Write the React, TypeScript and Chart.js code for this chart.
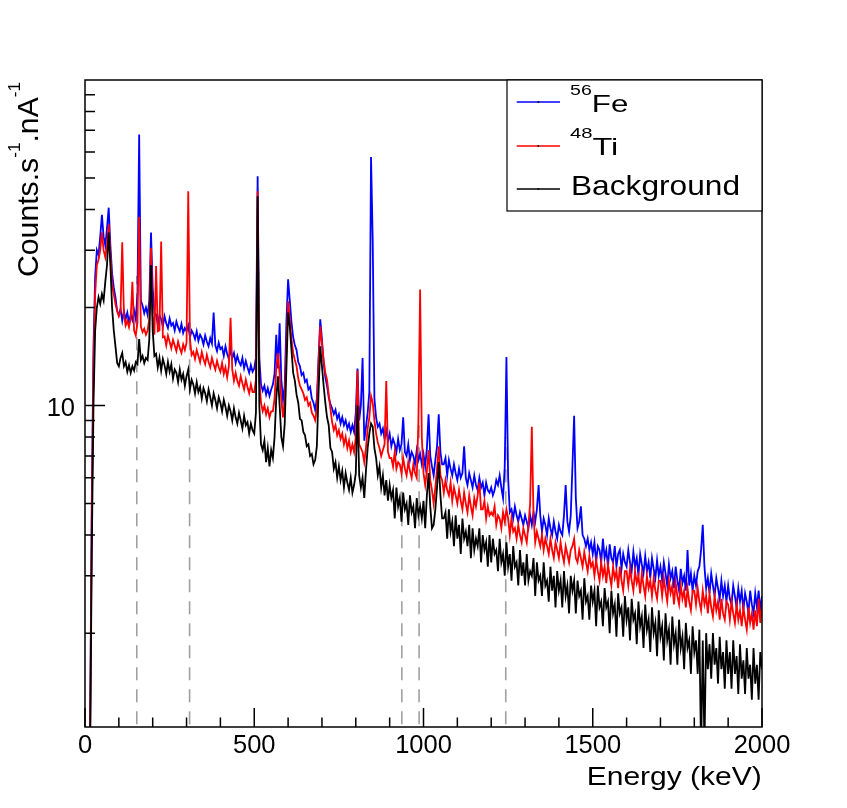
import React, { useEffect, useRef } from "react";
import { Chart, registerables } from "chart.js";

Chart.register(...registerables);

// Spectra sampled every BIN_KEV keV, starting at 0 keV (values in counts/s/nA)
const BIN_KEV = 5;

const FE56 = [
  0.5, 0.5, 0.6, 1.0, 5, 15, 25, 30, 29, 33, 38.5, 33, 31, 35, 40.5, 31, 25.5, 23, 21.5, 19.5,
  19, 19.8, 18.2, 19.5, 18.4, 19.3, 18, 19, 18.3, 19.6, 18.4, 22, 68, 21, 20.3, 19.2, 20, 19, 21, 34,
  23, 19.2, 19.0, 17.7, 18.9, 18.4, 17.5, 18.8, 17.9, 17.3, 18.5, 17.6, 17.9, 17.0, 18.1, 17.4, 16.9, 17.8, 16.7, 17.3,
  16.9, 17.6, 16.2, 17.0, 16.6, 16.0, 16.9, 15.8, 16.5, 16.1, 15.4, 16.4, 15.7, 15.2, 16.1, 15.5, 19.3, 15.3, 14.7, 15.6,
  14.9, 15.1, 14.2, 15.2, 14.4, 13.9, 14.9, 14.0, 14.5, 13.5, 14.2, 13.6, 13.3, 14.0, 13.0, 13.7, 13.1, 12.6, 13.3, 12.7,
  13, 14, 50.6, 14, 11.6, 11.1, 11.5, 10.8, 11.3, 10.7, 11.2, 11.6, 12.5, 16.5, 13, 17.9, 12, 10.4, 11.5, 18,
  24.4, 21, 18, 16.2, 15.3, 14.8, 13.6, 13.2, 12.4, 12.6, 11.8, 12, 11.2, 11.4, 10.5, 10.2, 9.7, 10.5, 14, 18.4,
  16, 13.5, 12.2, 11.5, 10.6, 10.1, 9.8, 9.4, 9.7, 9.1, 9.4, 8.8, 9.2, 8.7, 9, 8.5, 8.8, 8.3, 8.7, 8.3,
  9.5, 13, 9, 10, 14, 7.8, 8.6, 9.5, 11, 58, 32, 10.5, 9.2, 8.6, 8.8, 8.2, 8.5, 7.9, 8.4, 7.8,
  8.2, 7.5, 7.9, 7.6, 7.2, 7.9, 7.3, 7.6, 9.2, 7.2, 7.0, 7.6, 6.8, 7.2, 7.0, 6.6, 7.3, 6.8, 7.1, 6.6,
  7.1, 6.5, 7.4, 9.4, 7.0, 6.5, 6.1, 6.8, 7.5, 9.4, 7.2, 6.6, 6.6, 6.9, 6.1, 6.8, 6.4, 6.1, 6.6, 6.2,
  5.9, 6.4, 6.0, 6.2, 7.5, 6.0, 5.7, 6.2, 5.9, 5.6, 6.1, 5.7, 5.5, 6.0, 5.6, 5.8, 5.3, 5.8, 5.5, 5.4,
  5.6, 5.3, 5.5, 5.9, 5.7, 6.1, 5.6, 5.2, 6.5, 14.1, 6.0, 4.7, 4.8, 4.5, 4.9, 4.6, 4.4, 4.7, 4.5, 4.3,
  4.6, 4.4, 4.2, 4.6, 4.3, 4.7, 4.4, 4.8, 5.7, 4.6, 4.1, 4.5, 4.3, 4.0, 4.5, 4.2, 4.0, 4.4, 4.1, 3.9,
  4.3, 4.1, 4.0, 4.6, 5.7, 4.4, 4.1, 4.6, 6.5, 9.3, 5.2, 4.2, 4.4, 4.9, 4.0, 3.9, 3.7, 3.9, 3.6, 3.8,
  3.5, 3.8, 3.3, 3.7, 3.6, 3.3, 3.9, 3.4, 3.6, 3.2, 3.75, 3.4, 3.3, 3.7, 3.2, 3.5, 3.6, 3.15, 3.5, 3.3,
  3.2, 3.6, 3.3, 3.1, 3.55, 3.2, 3.4, 3.0, 3.5, 3.25, 3.05, 3.45, 3.1, 3.3, 2.95, 3.4, 3.15, 2.95, 3.35, 3.0,
  3.2, 2.9, 3.3, 3.05, 2.8, 3.25, 2.95, 3.1, 2.75, 3.2, 2.9, 2.7, 3.15, 2.85, 3.0, 2.7, 3.6, 2.8, 3.05, 2.7,
  3.0, 2.8, 3.1, 3.2, 3.6, 4.3, 3.2, 2.75, 2.95, 2.65, 3.05, 2.8, 2.6, 2.95, 2.75, 2.55, 2.9, 2.6, 2.8, 2.5,
  2.8, 2.55, 2.45, 2.8, 2.6, 2.4, 2.75, 2.5, 2.7, 2.35, 2.65, 2.5, 2.3, 2.7, 2.45, 2.3, 2.65, 2.4, 2.7, 2.35,
  2.6,
];

const TI48 = [
  0.5, 0.5, 0.6, 0.9, 4.5, 13, 22, 27, 28, 30, 34, 30, 28.5, 31, 36, 29, 23.5, 22, 20.5, 19.5,
  18.8, 19.5, 31.7, 19, 17.6, 18.2, 17.4, 18.5, 24, 17, 16.4, 18, 38, 17.5, 16.8, 17.2, 16.5, 17, 18.5, 30.5,
  19, 16.5, 26.8, 16.9, 17.0, 31.9, 16.2, 16.3, 15.3, 16.4, 15.7, 15.0, 15.9, 15.3, 14.7, 15.7, 15.0, 14.5, 15.4, 14.8,
  15.6, 45.5, 16, 14.3, 14.6, 13.9, 14.8, 14.2, 13.6, 14.6, 13.9, 13.4, 14.3, 13.6, 13.1, 14.0, 13.4, 12.9, 13.7, 13.1,
  12.7, 13.5, 12.5, 13.1, 12.2, 13.2, 18.6, 12.9, 11.9, 12.6, 11.9, 11.5, 12.3, 11.7, 11.2, 12.0, 11.4, 10.9, 11.6, 11.0,
  11, 12, 45.5, 12, 10.2, 9.6, 10, 9.4, 9.8, 9.2, 9.6, 9.6, 10.5, 13, 14.5, 12.5, 10.4, 9.2, 10.4, 15,
  20.9, 18.5, 16, 14.5, 13.8, 13.2, 12.1, 11.5, 11.2, 10.9, 10.4, 10.6, 10, 10.2, 9.5, 9.3, 9, 9.8, 13.5, 17.5,
  15.5, 13.8, 12.6, 12, 10.8, 9.8, 8.9, 8.4, 8.7, 8.1, 8.4, 7.9, 8.2, 7.6, 8, 7.4, 7.8, 7.2, 7.6, 7.2,
  8, 12.8, 7.6, 7.4, 7.2, 6.7, 7.4, 8.5, 9.2, 10.7, 10.2, 9, 8.2, 7.7, 7.4, 7.0, 7.3, 7.6, 11.9, 7.2,
  6.9, 6.9, 6.5, 7.2, 6.4, 6.7, 6.6, 6.2, 6.9, 6.4, 6.1, 6.7, 6.3, 6.0, 6.6, 6.2, 6.0, 9, 22.7, 8,
  6.2, 5.7, 6.3, 7.3, 5.9, 5.5, 5.0, 5.6, 6.4, 7.5, 6.1, 5.9, 5.4, 5.9, 5.5, 5.3, 5.8, 5.1, 5.6, 5.3,
  5.0, 5.5, 5.1, 4.8, 5.4, 5.0, 4.7, 5.3, 4.9, 4.6, 5.2, 4.9, 5.3, 5.8, 4.8, 4.8, 5.1, 4.5, 4.9, 4.6,
  4.7, 4.6, 4.9, 4.3, 4.6, 4.5, 4.2, 4.7, 4.4, 4.8, 4.5, 4.0, 4.5, 4.1, 4.2, 3.9, 4.3, 4.0, 3.8, 4.2,
  4.0, 3.8, 4.3, 5.0, 8.6, 4.6, 3.8, 4.1, 3.9, 3.7, 4.0, 3.6, 3.9, 3.7, 3.5, 3.9, 3.6, 3.4, 3.8, 3.6,
  3.4, 3.8, 3.5, 3.3, 3.7, 3.5, 3.3, 3.6, 3.7, 3.9, 3.4, 3.3, 3.6, 3.4, 3.2, 3.55, 3.3, 3.1, 3.45, 3.2,
  3.3, 3.0, 3.35, 3.1, 2.9, 3.3, 3.0, 3.2, 2.85, 3.25, 3.0, 2.8, 3.2, 2.95, 3.1, 2.75, 3.2, 2.9, 2.7, 3.1,
  3.1, 2.8, 3.15, 2.9, 2.7, 3.1, 2.85, 3.0, 2.65, 3.05, 2.8, 2.6, 3.0, 2.75, 2.9, 2.6, 2.95, 2.7, 2.55, 2.9,
  2.9, 2.6, 2.95, 2.7, 2.5, 2.9, 2.65, 2.8, 2.45, 2.85, 2.6, 2.45, 2.8, 2.55, 2.7, 2.4, 2.75, 2.5, 2.35, 2.7,
  2.7, 2.45, 2.75, 2.5, 2.35, 2.7, 2.45, 2.6, 2.3, 2.65, 2.4, 2.25, 2.6, 2.35, 2.5, 2.2, 2.55, 2.3, 2.2, 2.5,
  2.45, 2.2, 2.5, 2.3, 2.15, 2.45, 2.2, 2.35, 2.1, 2.4, 2.2, 2.05, 2.4, 2.15, 2.3, 2.05, 2.35, 2.1, 2.55, 2.15,
  2.45,
];

const BACKGROUND = [
  0.5, 0.5, 0.6, 0.85, 3.5, 10, 17, 20, 21.5, 20.5, 22, 21, 24, 27, 34, 27, 20, 17, 15.2, 13.5,
  13.2, 14, 14.5, 13.2, 13.6, 12.7, 13.3, 12.6, 13.2, 12.8, 13.6, 13.4, 16, 13.8, 14.2, 13.5, 14, 13.8, 16, 27,
  17, 14.2, 14.4, 13.1, 14.0, 12.8, 13.9, 13.3, 12.5, 13.6, 12.7, 13.4, 12.1, 12.9, 12.6, 11.8, 12.9, 12.0, 12.5, 11.5,
  12.3, 12.9, 11.2, 12.0, 11.6, 10.9, 11.8, 11.0, 11.4, 10.5, 11.3, 10.9, 10.3, 11.2, 10.6, 10.0, 10.9, 10.4, 9.8, 10.6,
  10.2, 9.6, 10.4, 9.9, 9.3, 10.0, 9.6, 9.0, 9.8, 9.2, 8.8, 9.5, 9.0, 8.5, 9.3, 8.7, 8.9, 8.2, 8.8, 8.4,
  8.2, 9.5, 43.9, 10, 7.6, 7.3, 7.8, 6.7, 7.4, 6.5, 7.3, 6.9, 8, 10.5, 12.3, 10, 8.0, 7.5, 8.8, 13,
  19.3, 17.5, 14.8, 12.6, 11.9, 10.8, 10.2, 9.1, 9.0, 8.3, 8.1, 7.5, 7.6, 7.0, 7.1, 6.6, 6.8, 7.5, 11, 15.2,
  13.2, 11.5, 10.2, 9.2, 8.7, 7.4, 7.2, 6.4, 6.7, 6.0, 6.5, 5.9, 6.3, 5.6, 6.2, 5.8, 5.5, 6.0, 5.4, 5.7,
  6.2, 10, 6.1, 5.6, 6.0, 5.2, 6.3, 7.4, 8.2, 8.8, 8.6, 7.4, 6.9, 6.1, 6.5, 5.6, 6.1, 5.3, 5.9, 5.1,
  5.7, 5.2, 5.5, 4.5, 5.6, 4.9, 5.2, 4.4, 5.4, 4.8, 5.0, 4.3, 5.3, 4.7, 4.9, 4.2, 5.2, 4.6, 4.9, 4.5,
  5.1, 4.2, 5.3, 6.2, 4.9, 4.2, 4.3, 4.8, 5.6, 6.7, 5.3, 4.5, 4.5, 4.7, 3.9, 4.8, 4.1, 4.4, 3.7, 4.6,
  3.9, 4.3, 3.5, 4.5, 3.9, 4.1, 3.7, 4.3, 3.4, 4.2, 3.6, 3.9, 3.7, 4.2, 3.3, 4.0, 3.6, 3.8, 3.2, 4.0,
  3.3, 3.9, 3.5, 3.6, 3.1, 3.9, 3.3, 3.5, 3.0, 3.8, 3.2, 3.5, 2.9, 3.7, 3.2, 3.3, 2.8, 3.6, 3.0, 3.3,
  2.8, 3.5, 2.9, 3.1, 3.0, 3.4, 2.6, 3.3, 2.9, 3.0, 2.6, 3.3, 2.8, 2.9, 2.5, 3.2, 2.7, 3.0, 2.4, 3.1,
  2.7, 2.9, 2.4, 3.1, 2.6, 2.8, 2.3, 3.0, 2.7, 2.9, 2.3, 2.9, 2.6, 2.7, 2.2, 2.95, 2.5, 2.6, 2.2, 2.8,
  2.5, 2.7, 2.1, 2.8, 2.4, 2.5, 2.1, 2.75, 2.4, 2.5, 2.0, 2.7, 2.3, 2.45, 1.95, 2.65, 2.3, 2.4, 1.95, 2.6,
  2.2, 2.4, 1.9, 2.55, 2.2, 2.3, 1.85, 2.5, 2.1, 2.25, 1.8, 2.45, 2.05, 2.2, 1.75, 2.4, 2.0, 2.15, 1.7, 2.35,
  1.95, 2.1, 1.65, 2.3, 1.9, 2.05, 1.6, 2.25, 1.85, 2.0, 1.6, 2.2, 1.8, 1.95, 1.55, 2.15, 1.8, 1.9, 1.5, 2.1,
  1.75, 1.9, 1.5, 2.05, 0.85, 1.9, 0.9, 2.0, 1.55, 1.85, 1.45, 2.0, 1.6, 1.8, 1.4, 1.95, 1.55, 1.75, 1.35, 1.9,
  1.5, 1.75, 1.35, 1.9, 1.5, 1.7, 1.3, 1.85, 1.45, 1.65, 1.3, 1.8, 1.45, 1.6, 1.25, 1.8, 1.4, 1.6, 1.25, 1.75,
  1.55,
];

// Axes
const X_MIN = 0;
const X_MAX = 2000;
const X_LABELS = [0, 500, 1000, 1500, 2000];
const X_MINOR_STEP = 100;
const Y_MIN = 1.03;
const Y_MAX = 99.9;
const Y_LABELS = [10];

// Dashed reference lines (keV) and their extent (counts/s/nA)
const LINE_ENERGIES = [153, 309, 936, 987, 1243];
const LINE_TOPS = [25, 18, 8, 9, 8];
const LINE_BOTTOM = 1.05;

// Legend
const LEGEND_ISOTOPES = [
  { mass: "56", symbol: "Fe", color: "#0000ff" },
  { mass: "48", symbol: "Ti", color: "#ff0000" },
];
const LEGEND_BACKGROUND = "Background";

const FONT = '"Liberation Sans", Arial, Helvetica, sans-serif';

type Seg = { t: string; sup?: boolean };

function drawRich(
  ctx: CanvasRenderingContext2D,
  segs: Seg[],
  x: number,
  y: number,
  size: number,
  supSize: number,
  supRise: number,
  targetWidth?: number
) {
  const widths = segs.map((s) => {
    ctx.font = `${s.sup ? supSize : size}px ${FONT}`;
    return ctx.measureText(s.t).width;
  });
  const total = widths.reduce((a, b) => a + b, 0);
  const sx = targetWidth ? targetWidth / total : 1;
  ctx.save();
  ctx.translate(x, y);
  ctx.scale(sx, 1);
  ctx.textAlign = "left";
  ctx.textBaseline = "alphabetic";
  let cx = 0;
  segs.forEach((s, i) => {
    ctx.font = `${s.sup ? supSize : size}px ${FONT}`;
    ctx.fillText(s.t, cx, s.sup ? -supRise : 0);
    cx += widths[i];
  });
  ctx.restore();
}

const rootFrame = {
  id: "rootFrame",
  afterDraw(chart: any) {
    const { ctx, chartArea: a, scales } = chart;
    const xs = scales.x;
    const ys = scales.y;
    ctx.save();
    ctx.strokeStyle = "#000";
    ctx.fillStyle = "#000";
    ctx.lineWidth = 1.5;
    ctx.strokeRect(a.left, a.top, a.right - a.left, a.bottom - a.top);

    ctx.beginPath();
    for (let e = X_MIN; e <= X_MAX; e += X_MINOR_STEP) {
      const px = xs.getPixelForValue(e);
      const len = X_LABELS.includes(e) ? 19 : 9.5;
      ctx.moveTo(px, a.bottom);
      ctx.lineTo(px, a.bottom - len);
    }
    for (let d = 1; d <= 10; d *= 10) {
      for (let m = 1; m <= 9; m++) {
        const v = m * d;
        if (v <= Y_MIN || v >= Y_MAX) continue;
        const py = ys.getPixelForValue(v);
        const len = m === 1 ? 20 : 10;
        ctx.moveTo(a.left, py);
        ctx.lineTo(a.left + len, py);
      }
    }
    ctx.stroke();

    // tick labels
    ctx.font = `25.5px ${FONT}`;
    ctx.textAlign = "center";
    ctx.textBaseline = "alphabetic";
    X_LABELS.forEach((v) => {
      ctx.fillText(String(v), xs.getPixelForValue(v), 753);
    });
    ctx.textAlign = "right";
    Y_LABELS.forEach((v) => {
      ctx.fillText(String(v), 75, ys.getPixelForValue(v) + 10.5);
    });

    // axis titles
    drawRich(ctx, [{ t: "Energy (keV)" }], 586.7, 785, 26.5, 0, 0, 175);
    ctx.save();
    ctx.translate(38, 277);
    ctx.rotate(-Math.PI / 2);
    drawRich(
      ctx,
      [{ t: "Counts.s" }, { t: "-1", sup: true }, { t: ".nA" }, { t: "-1", sup: true }],
      0,
      0,
      30,
      17,
      18,
      195
    );
    ctx.restore();

    // legend
    const lx = 507;
    const ly = 80;
    const lw = a.right - lx;
    const lh = 131;
    ctx.fillStyle = "#fff";
    ctx.fillRect(lx, ly, lw, lh);
    ctx.strokeStyle = "#000";
    ctx.lineWidth = 1.2;
    ctx.strokeRect(lx, ly, lw, lh);

    const rows = [102, 146, 189];
    const colors = [LEGEND_ISOTOPES[0].color, LEGEND_ISOTOPES[1].color, "#000"];
    rows.forEach((ry, i) => {
      ctx.strokeStyle = colors[i];
      ctx.lineWidth = 1.3;
      ctx.beginPath();
      ctx.moveTo(516.7, ry);
      ctx.lineTo(560, ry);
      ctx.stroke();
      ctx.fillStyle = "#000";
      ctx.fillRect(537.5, ry - 0.8, 1.6, 1.6);
    });
    ctx.fillStyle = "#000";
    drawRich(
      ctx,
      [{ t: LEGEND_ISOTOPES[0].mass, sup: true }, { t: LEGEND_ISOTOPES[0].symbol }],
      570,
      112,
      24,
      15,
      17.3,
      58.3
    );
    drawRich(
      ctx,
      [{ t: LEGEND_ISOTOPES[1].mass, sup: true }, { t: LEGEND_ISOTOPES[1].symbol }],
      570,
      155.3,
      24,
      15,
      17.3,
      48.3
    );
    drawRich(ctx, [{ t: LEGEND_BACKGROUND }], 571, 194.7, 28, 0, 0, 169);
    ctx.restore();
  },
};

function toPoints(values: number[]) {
  return values.map((v, i) => ({ x: i * BIN_KEV, y: v }));
}

export default function App() {
  const ref = useRef<HTMLCanvasElement | null>(null);

  useEffect(() => {
    if (!ref.current) return;
    const lineSets = LINE_ENERGIES.map((e, i) => ({
      label: `line${i}`,
      data: [
        { x: e, y: LINE_BOTTOM },
        { x: e, y: LINE_TOPS[i] },
      ],
      borderColor: "#a0a0a0",
      borderWidth: 1.6,
      borderDash: [13, 9],
      pointRadius: 0,
      fill: false,
    }));
    const chart = new Chart(ref.current, {
      type: "line",
      data: {
        datasets: [
          {
            label: "Background",
            data: toPoints(BACKGROUND),
            borderColor: "#000000",
            borderWidth: 1.8,
            pointRadius: 0,
            fill: false,
          },
          {
            label: "48Ti",
            data: toPoints(TI48),
            borderColor: "#ff0000",
            borderWidth: 1.8,
            pointRadius: 0,
            fill: false,
          },
          {
            label: "56Fe",
            data: toPoints(FE56),
            borderColor: "#0000ff",
            borderWidth: 1.8,
            pointRadius: 0,
            fill: false,
          },
          ...lineSets,
        ] as any,
      },
      options: {
        animation: false,
        responsive: false,
        layout: { padding: { left: 85, right: 85, top: 80, bottom: 81 } },
        elements: { line: { tension: 0 }, point: { radius: 0 } },
        scales: {
          x: { type: "linear", min: X_MIN, max: X_MAX, display: false },
          y: { type: "logarithmic", min: Y_MIN, max: Y_MAX, display: false },
        },
        plugins: { legend: { display: false }, tooltip: { enabled: false } },
      } as any,
      plugins: [rootFrame],
    });
    return () => chart.destroy();
  }, []);

  return (
    <div style={{ position: "absolute", left: 0, top: 0, width: 847, height: 808, background: "#fff" }}>
      <canvas ref={ref} width={847} height={808} style={{ display: "block" }} />
    </div>
  );
}
